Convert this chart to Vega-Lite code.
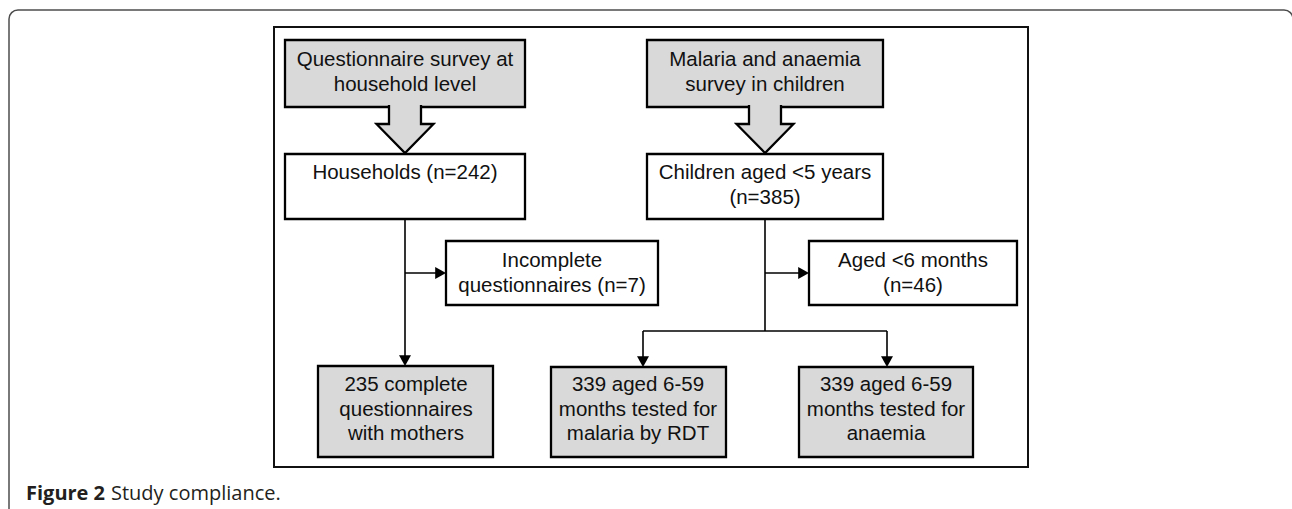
{
  "$schema": "https://vega.github.io/schema/vega-lite/v6.json",
  "width": 1292,
  "height": 509,
  "autosize": "none",
  "padding": 0,
  "background": "white",
  "config": {"view": {"stroke": null}},
  "datasets": {
    "outer": [{"x": 9, "y": 10, "x2": 1293, "y2": 540}],
    "inner": [{"x": 274, "y": 27, "x2": 1028, "y2": 467}],
    "boxes": [
      {"id": "q", "shade": "grey", "x": 285, "y": 40, "x2": 525, "y2": 107},
      {"id": "m", "shade": "grey", "x": 647, "y": 40, "x2": 883, "y2": 107},
      {"id": "h", "shade": "white", "x": 285, "y": 154, "x2": 525, "y2": 219},
      {"id": "c", "shade": "white", "x": 647, "y": 154, "x2": 883, "y2": 219},
      {"id": "inc", "shade": "white", "x": 446, "y": 241, "x2": 658, "y2": 305},
      {"id": "age", "shade": "white", "x": 809, "y": 241, "x2": 1017, "y2": 305},
      {"id": "r1", "shade": "grey", "x": 318, "y": 366, "x2": 493, "y2": 457},
      {"id": "r2", "shade": "grey", "x": 551, "y": 367, "x2": 726, "y2": 457},
      {"id": "r3", "shade": "grey", "x": 799, "y": 367, "x2": 973, "y2": 457}
    ],
    "blockArrows": [
      {"id": "L", "i": 1, "x": 389, "y": 105},
      {"id": "L", "i": 2, "x": 389, "y": 124},
      {"id": "L", "i": 3, "x": 376.5, "y": 124},
      {"id": "L", "i": 4, "x": 405, "y": 153},
      {"id": "L", "i": 5, "x": 433.5, "y": 124},
      {"id": "L", "i": 6, "x": 421, "y": 124},
      {"id": "L", "i": 7, "x": 421, "y": 105},
      {"id": "R", "i": 1, "x": 749, "y": 105},
      {"id": "R", "i": 2, "x": 749, "y": 124},
      {"id": "R", "i": 3, "x": 736.5, "y": 124},
      {"id": "R", "i": 4, "x": 765, "y": 153},
      {"id": "R", "i": 5, "x": 793.5, "y": 124},
      {"id": "R", "i": 6, "x": 781, "y": 124},
      {"id": "R", "i": 7, "x": 781, "y": 105}
    ],
    "connectors": [
      {"x": 405, "y": 219, "x2": 405, "y2": 360},
      {"x": 405, "y": 273, "x2": 441, "y2": 273},
      {"x": 765, "y": 219, "x2": 765, "y2": 331},
      {"x": 765, "y": 273, "x2": 804, "y2": 273},
      {"x": 643, "y": 331, "x2": 887, "y2": 331},
      {"x": 643, "y": 331, "x2": 643, "y2": 362},
      {"x": 887, "y": 331, "x2": 887, "y2": 361}
    ],
    "heads": [
      {"dir": "down", "x": 405, "y": 366},
      {"dir": "right", "x": 446, "y": 273},
      {"dir": "right", "x": 809, "y": 273},
      {"dir": "down", "x": 643, "y": 367},
      {"dir": "down", "x": 887, "y": 367}
    ],
    "labels": [
      {"x": 405, "y": 60, "text": "Questionnaire survey at\nhousehold level"},
      {"x": 765, "y": 60, "text": "Malaria and anaemia\nsurvey in children"},
      {"x": 405, "y": 173, "text": "Households (n=242)"},
      {"x": 765, "y": 173, "text": "Children aged <5 years\n(n=385)"},
      {"x": 552, "y": 261, "text": "Incomplete\nquestionnaires (n=7)"},
      {"x": 913, "y": 261, "text": "Aged <6 months\n(n=46)"},
      {"x": 406, "y": 385, "text": "235 complete\nquestionnaires\nwith mothers"},
      {"x": 638, "y": 385, "text": "339 aged 6-59\nmonths tested for\nmalaria by RDT"},
      {"x": 886, "y": 385, "text": "339 aged 6-59\nmonths tested for\nanaemia"}
    ],
    "caption": [
      {"x": 26, "y": 500, "weight": "bold", "text": "Figure 2"},
      {"x": 111, "y": 500, "weight": "normal", "text": "Study compliance."}
    ]
  },
  "encoding": {
    "x": {"field": "x", "type": "quantitative", "scale": {"domain": [0, 1292], "nice": false, "zero": false}, "axis": null},
    "y": {"field": "y", "type": "quantitative", "scale": {"domain": [0, 509], "reverse": true, "nice": false, "zero": false}, "axis": null}
  },
  "layer": [
    {
      "data": {"name": "outer"},
      "mark": {"type": "rect", "fill": null, "stroke": "#4d4d4d", "strokeWidth": 1.5, "cornerRadius": 9},
      "encoding": {"x2": {"field": "x2"}, "y2": {"field": "y2"}}
    },
    {
      "data": {"name": "inner"},
      "mark": {"type": "rect", "fill": null, "stroke": "#111111", "strokeWidth": 2},
      "encoding": {"x2": {"field": "x2"}, "y2": {"field": "y2"}}
    },
    {
      "data": {"name": "boxes"},
      "mark": {"type": "rect", "stroke": "#000000", "strokeWidth": 2.3, "opacity": 1},
      "encoding": {
        "x2": {"field": "x2"},
        "y2": {"field": "y2"},
        "fill": {"field": "shade", "type": "nominal", "scale": {"domain": ["grey", "white"], "range": ["#d9d9d9", "#ffffff"]}, "legend": null}
      }
    },
    {
      "data": {"name": "blockArrows"},
      "mark": {"type": "line", "fill": "#d9d9d9", "stroke": "#000000", "strokeWidth": 2.3, "strokeJoin": "miter"},
      "encoding": {
        "detail": {"field": "id", "type": "nominal"},
        "order": {"field": "i", "type": "quantitative"}
      }
    },
    {
      "data": {"name": "connectors"},
      "mark": {"type": "rule", "color": "#000000", "strokeWidth": 1.6},
      "encoding": {"x2": {"field": "x2"}, "y2": {"field": "y2"}}
    },
    {
      "data": {"name": "heads"},
      "mark": {"type": "point", "filled": true, "color": "#000000", "opacity": 1, "size": 144, "strokeWidth": 0},
      "encoding": {
        "shape": {"field": "dir", "type": "nominal", "scale": {"domain": ["down", "right"], "range": ["M0,0L-1,-1.8L1,-1.8Z", "M0,0L-1.8,-1L-1.8,1Z"]}, "legend": null}
      }
    },
    {
      "data": {"name": "labels"},
      "mark": {"type": "text", "font": "Liberation Sans", "fontSize": 20.5, "lineHeight": 24.5, "lineBreak": "\n", "align": "center", "baseline": "middle", "color": "#111111"},
      "encoding": {"text": {"field": "text"}}
    },
    {
      "data": {"name": "caption"},
      "transform": [{"filter": "datum.weight === 'bold'"}],
      "mark": {"type": "text", "font": "Open Sans", "fontSize": 20, "fontWeight": "bold", "align": "left", "baseline": "alphabetic", "color": "#231f20"},
      "encoding": {"text": {"field": "text"}}
    },
    {
      "data": {"name": "caption"},
      "transform": [{"filter": "datum.weight === 'normal'"}],
      "mark": {"type": "text", "font": "Open Sans", "fontSize": 20, "fontWeight": "normal", "align": "left", "baseline": "alphabetic", "color": "#231f20"},
      "encoding": {"text": {"field": "text"}}
    }
  ]
}
